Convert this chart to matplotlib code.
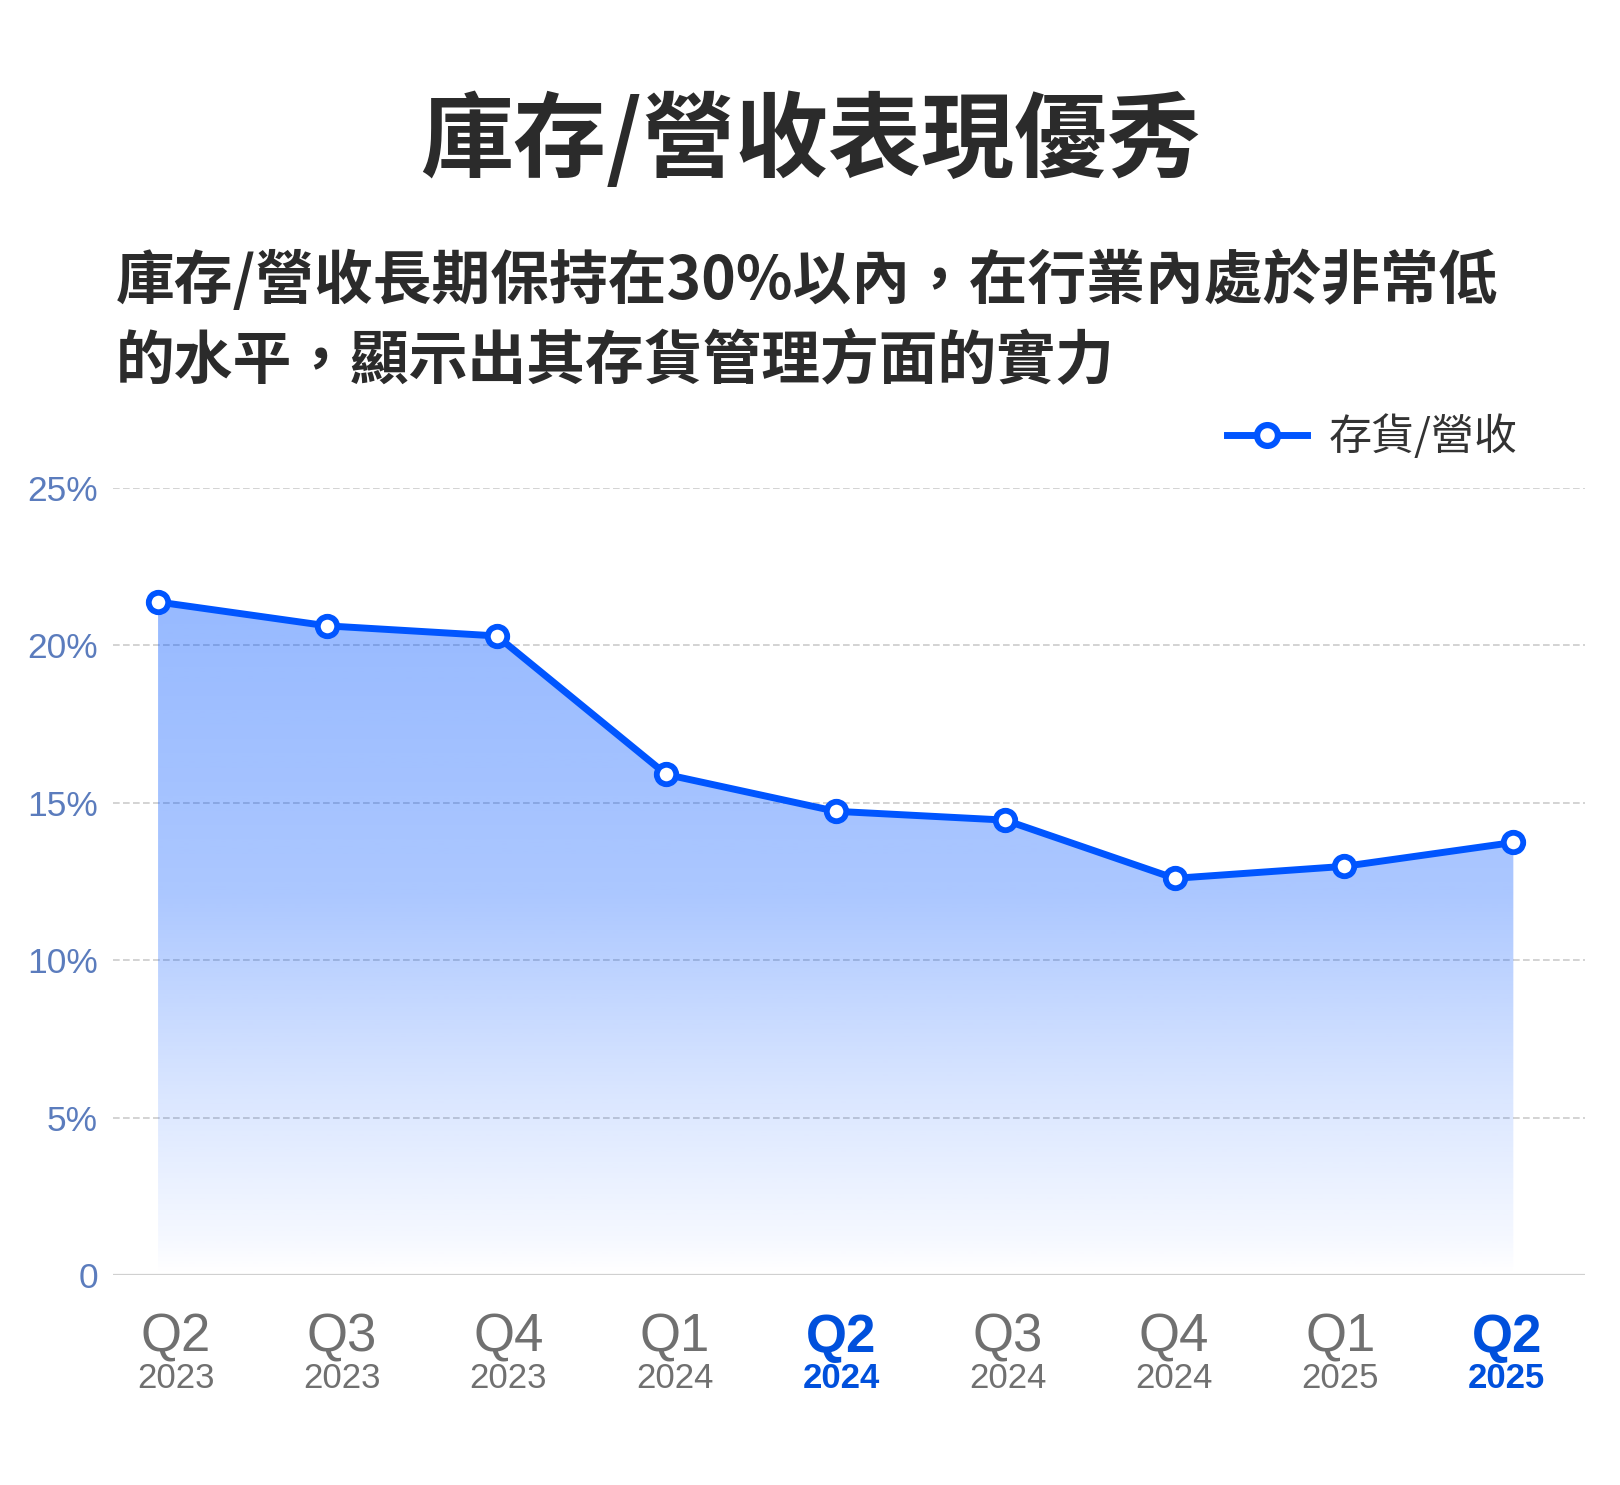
import matplotlib
matplotlib.use("Agg")
import matplotlib.pyplot as plt
import numpy as np
from matplotlib.lines import Line2D
from matplotlib.font_manager import FontProperties
import matplotlib.transforms as mtransforms

# data
quarters = ["Q2", "Q3", "Q4", "Q1", "Q2", "Q3", "Q4", "Q1", "Q2"]
years = ["2023", "2023", "2023", "2024", "2024", "2024", "2024", "2025", "2025"]
ratio = [21.38, 20.62, 20.30, 15.90, 14.73, 14.45, 12.60, 12.98, 13.74]
highlight = [False, False, False, False, True, False, False, False, True]
yticks = [0, 5, 10, 15, 20, 25]
ytick_labels = ["0", "5%", "10%", "15%", "20%", "25%"]

title = "庫存/營收表現優秀"
subtitle1 = "庫存/營收長期保持在30%以內，在行業內處於非常低"
subtitle2 = "的水平，顯示出其存貨管理方面的實力"
legend_label = "存貨/營收"

CJK = ["Noto Sans CJK TC", "DejaVu Sans"]
LAT = ["Liberation Sans", "DejaVu Sans"]
BLUE = "#0055ff"
HL = "#0050dc"
GREY = "#707070"
DARK = "#2b2b2b"

W, H = 1620, 1485
fig = plt.figure(figsize=(W / 100, H / 100), dpi=100)
fig.patch.set_facecolor("white")

# axes placed by pixel measurements of the reference
ax = fig.add_axes([113 / W, 1 - 1275 / H, (1585 - 113) / W, (1275 - 488) / H])
x = np.arange(len(ratio))
ax.set_xlim(-0.266, 8.423)
ax.set_ylim(0, 25)

# gradient area under the line
poly = ax.fill_between(x, ratio, 0, facecolor="none", edgecolor="none")
top = max(ratio)
ys = np.linspace(0, top, 300)
t = ys / top
alpha = np.interp(t, [0, 0.05, 0.27, 0.565, 1.0], [0.0, 0.04, 0.15, 0.33, 0.41])
img = np.zeros((len(ys), 1, 4))
img[..., 0] = 0.0
img[..., 1] = 85 / 255
img[..., 2] = 1.0
img[..., 3] = alpha[:, None]
im = ax.imshow(img, extent=[x[0], x[-1], 0, top], origin="lower",
               aspect="auto", zorder=1, interpolation="bilinear")
im.set_clip_path(poly.get_paths()[0], transform=ax.transData)

# grid
for yv in yticks[1:]:
    ax.axhline(yv, color="#cccccc", lw=1.2, ls=(0, (4, 2)), zorder=0.5)
ax.axhline(0, color="#d0d0d0", lw=1.6, zorder=2)

ax.plot(x, ratio, color=BLUE, lw=5, marker="o", markersize=14,
        markerfacecolor="white", markeredgecolor=BLUE, markeredgewidth=4.2,
        zorder=3, clip_on=False)

for s in ax.spines.values():
    s.set_visible(False)

ax.set_yticks(yticks)
ax.set_yticklabels(ytick_labels, fontfamily=LAT, fontsize=25.5, color="#5b7cbd")
ax.tick_params(axis="y", length=0, pad=10.8)
ax.set_xticks([])

# two-line x labels
trans = mtransforms.blended_transform_factory(ax.transData, ax.transAxes)
label_x = 0.104 + 0.982 * x
for lx, q, yr, hl in zip(label_x, quarters, years, highlight):
    c = HL if hl else GREY
    w = "bold" if hl else "normal"
    ax.text(lx, -63 / 787, q, transform=trans, ha="center", va="center",
            fontsize=38, color=c, fontweight=w, fontfamily=LAT)
    ax.text(lx, -104 / 787, yr, transform=trans, ha="center", va="center",
            fontsize=25, color=c, fontweight=w, fontfamily=LAT)

# legend
h = Line2D([], [], color=BLUE, lw=5, marker="o", markersize=15,
           markerfacecolor="white", markeredgecolor=BLUE, markeredgewidth=4.5)
ax.legend(handles=[h], labels=[legend_label], loc="center right",
          bbox_to_anchor=(1517 / W, 1 - 438 / H), bbox_transform=fig.transFigure,
          frameon=False, handlelength=1.85, handletextpad=0.5, borderpad=0,
          borderaxespad=0, labelcolor="#333333",
          prop=FontProperties(family=CJK, size=31))

# titles
fig.text(0.5, 1 - 142 / H, title, ha="center", va="center", fontsize=67,
         fontweight="bold", color=DARK, fontfamily=CJK)
fig.text(116 / W, 1 - 281 / H, subtitle1, ha="left", va="center", fontsize=42.3,
         fontweight="bold", color=DARK, fontfamily=CJK)
fig.text(116 / W, 1 - 361 / H, subtitle2, ha="left", va="center", fontsize=42.3,
         fontweight="bold", color=DARK, fontfamily=CJK)

fig.savefig("out.png", dpi=100, facecolor="white")
